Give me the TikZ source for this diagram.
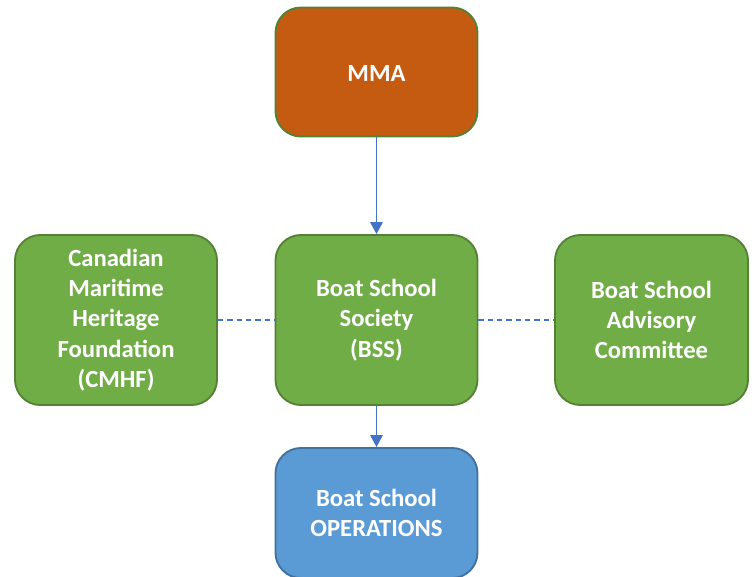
\documentclass[tikz,border=0pt]{standalone}
\usepackage{fontspec}
\setmainfont{Carlito}
\usetikzlibrary{arrows.meta}
\definecolor{orgfill}{HTML}{C55A11}
\definecolor{grnfill}{HTML}{70AD47}
\definecolor{grnline}{HTML}{548235}
\definecolor{blufill}{HTML}{5B9BD5}
\definecolor{bluline}{HTML}{41719C}
\definecolor{link}{HTML}{4472C4}
\tikzset{
  orgbox/.style={draw=#1, line width=1.4pt, rounded corners=19pt, inner sep=0pt,
    text=white, align=center,
    font=\fontsize{18.5}{22.7}\selectfont\bfseries,
    % a strut on the first line sets the text a touch lower in the box
    execute at begin node={\rule{0pt}{15pt}}},
  greenbox/.style={orgbox=grnline, fill=grnfill},
  topbox/.style={orgbox=grnline, fill=orgfill},
  opsbox/.style={orgbox=bluline, fill=blufill},
  reports/.style={draw=link, line width=0.8pt, -{Triangle[width=9.5pt,length=9pt]}},
  liaison/.style={draw=link, line width=1.5pt, dash pattern=on 4pt off 3pt}
}
\begin{document}
\begin{tikzpicture}[x=0.75pt, y=-0.75pt]
  \useasboundingbox (0,0) rectangle (754,577);
  \begin{scope}
    \clip (0,0) rectangle (754,577);
    \node[topbox, minimum width=202*0.75pt, minimum height=129*0.75pt] (mma) at (376.5,72) {MMA};
    \node[greenbox, minimum width=202*0.75pt, minimum height=170*0.75pt] (bss) at (376.5,320) {Boat School\\Society\\(BSS)};
    \node[greenbox, minimum width=202*0.75pt, minimum height=170*0.75pt] (cmhf) at (116,320) {Canadian\\Maritime\\Heritage\\Foundation\\(CMHF)};
    \node[greenbox, minimum width=193*0.75pt, minimum height=170*0.75pt] (bsac) at (651.5,320) {Boat School\\Advisory\\Committee};
    \node[opsbox, minimum width=202*0.75pt, minimum height=130*0.75pt] (ops) at (376.5,513) {Boat School\\OPERATIONS};
  \end{scope}
  \draw[reports] (mma) -- (bss);
  \draw[reports] (bss) -- (ops);
  \draw[liaison] (cmhf) -- (bss);
  \draw[liaison] (bss) -- (bsac);
\end{tikzpicture}
\end{document}
